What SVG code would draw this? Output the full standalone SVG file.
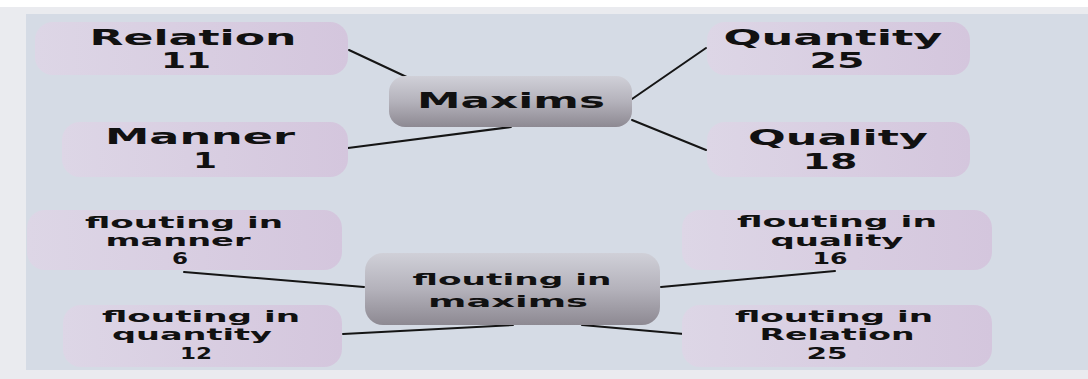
<svg xmlns="http://www.w3.org/2000/svg" width="1088" height="379" viewBox="0 0 1088 379">
<defs>
<linearGradient id="leaf" x1="0" y1="0" x2="1" y2="0">
<stop offset="0" stop-color="#ddd6e6"/>
<stop offset="1" stop-color="#d4c6dd"/>
</linearGradient>
<linearGradient id="hub" x1="0" y1="0" x2="0" y2="1">
<stop offset="0" stop-color="#d0d0d8"/>
<stop offset="0.5" stop-color="#b4b2bb"/>
<stop offset="1" stop-color="#8d8992"/>
</linearGradient>
<style>
.leaf{fill:url(#leaf);}
.hub{fill:url(#hub);}
text{font-family:"DejaVu Sans","Liberation Sans",sans-serif;font-weight:bold;fill:#111;text-anchor:middle;}
.big{font-size:22px;}
.sm{font-size:16px;}
.conn line{stroke:#151515;stroke-width:2;stroke-linecap:round;}
</style>
</defs>
<rect x="0" y="0" width="1088" height="379" fill="#ffffff"/>
<rect x="0" y="7" width="1088" height="372" fill="#eaebef"/>
<rect x="26" y="14" width="1062" height="356" fill="#d5dbe5"/>
<g id="connectors" class="conn">
<line x1="349" y1="50" x2="428" y2="87"/>
<line x1="348" y1="148" x2="511" y2="127"/>
<line x1="632" y1="99" x2="706" y2="48"/>
<line x1="632" y1="120" x2="706" y2="150"/>
<line x1="184" y1="272" x2="364" y2="287"/>
<line x1="343" y1="334" x2="513" y2="325"/>
<line x1="661" y1="287" x2="835" y2="271"/>
<line x1="582" y1="325" x2="684" y2="334"/>
</g>
<g id="relation">
<rect class="leaf" x="35" y="22" width="313" height="53" rx="18"/>
<text class="big" x="193" y="45" textLength="207" lengthAdjust="spacingAndGlyphs">Relation</text>
<text class="big" x="186" y="68" textLength="50" lengthAdjust="spacingAndGlyphs">11</text>
</g>
<g id="manner">
<rect class="leaf" x="62" y="122" width="286" height="55" rx="18"/>
<text class="big" x="200" y="144" textLength="190" lengthAdjust="spacingAndGlyphs">Manner</text>
<text class="big" x="205" y="168" textLength="24" lengthAdjust="spacingAndGlyphs">1</text>
</g>
<g id="maxims">
<rect class="hub" x="389" y="76" width="243" height="51" rx="16"/>
<text class="big" x="511" y="108" textLength="188" lengthAdjust="spacingAndGlyphs">Maxims</text>
</g>
<g id="quantity">
<rect class="leaf" x="707" y="22" width="263" height="53" rx="18"/>
<text class="big" x="833" y="45" textLength="219" lengthAdjust="spacingAndGlyphs">Quantity</text>
<text class="big" x="837" y="68" textLength="55" lengthAdjust="spacingAndGlyphs">25</text>
</g>
<g id="quality">
<rect class="leaf" x="707" y="122" width="263" height="55" rx="18"/>
<text class="big" x="838" y="145" textLength="180" lengthAdjust="spacingAndGlyphs">Quality</text>
<text class="big" x="830" y="169" textLength="55" lengthAdjust="spacingAndGlyphs">18</text>
</g>
<g id="flouting-manner">
<rect class="leaf" x="27" y="210" width="315" height="60" rx="18"/>
<text class="sm" x="184" y="228" textLength="198" lengthAdjust="spacingAndGlyphs">flouting in</text>
<text class="sm" x="178" y="246" textLength="145" lengthAdjust="spacingAndGlyphs">manner</text>
<text class="sm" x="180" y="264" textLength="16" lengthAdjust="spacingAndGlyphs">6</text>
</g>
<g id="flouting-quantity">
<rect class="leaf" x="63" y="305" width="279" height="62" rx="18"/>
<text class="sm" x="201" y="322" textLength="198" lengthAdjust="spacingAndGlyphs">flouting in</text>
<text class="sm" x="192" y="340" textLength="160" lengthAdjust="spacingAndGlyphs">quantity</text>
<text class="sm" x="196" y="359" textLength="32" lengthAdjust="spacingAndGlyphs">12</text>
</g>
<g id="flouting-maxims">
<rect class="hub" x="365" y="253" width="295" height="72" rx="18"/>
<text class="sm" x="512" y="285" textLength="199" lengthAdjust="spacingAndGlyphs">flouting in</text>
<text class="sm" x="508" y="307" textLength="160" lengthAdjust="spacingAndGlyphs">maxims</text>
</g>
<g id="flouting-quality">
<rect class="leaf" x="682" y="210" width="310" height="60" rx="18"/>
<text class="sm" x="837" y="227" textLength="200" lengthAdjust="spacingAndGlyphs">flouting in</text>
<text class="sm" x="837" y="246" textLength="133" lengthAdjust="spacingAndGlyphs">quality</text>
<text class="sm" x="830" y="264" textLength="35" lengthAdjust="spacingAndGlyphs">16</text>
</g>
<g id="flouting-relation">
<rect class="leaf" x="682" y="305" width="310" height="62" rx="18"/>
<text class="sm" x="834" y="322" textLength="198" lengthAdjust="spacingAndGlyphs">flouting in</text>
<text class="sm" x="837" y="340" textLength="155" lengthAdjust="spacingAndGlyphs">Relation</text>
<text class="sm" x="827" y="359" textLength="41" lengthAdjust="spacingAndGlyphs">25</text>
</g>
</svg>
